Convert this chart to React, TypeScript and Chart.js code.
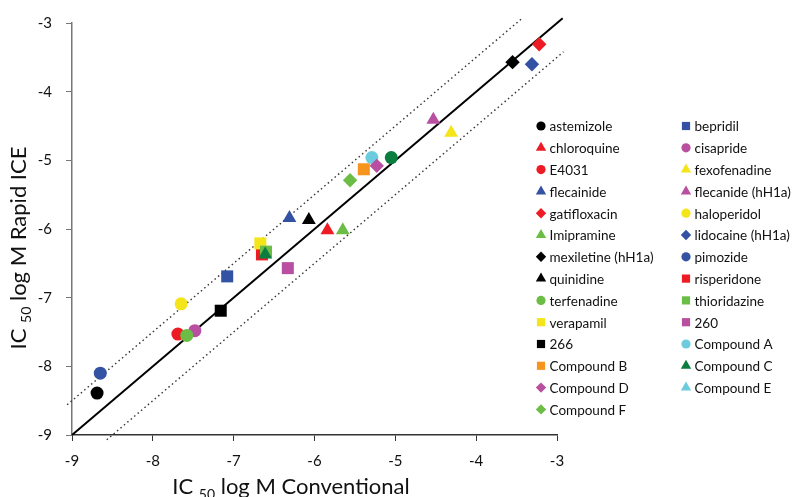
import React, { useEffect, useRef } from 'react';
import { Chart, registerables } from 'chart.js';
import { drawPoint } from 'chart.js/helpers';

Chart.register(...registerables);

// Legend entries (row-major, two columns)
const legendNames = [
  'astemizole', 'bepridil',
  'chloroquine', 'cisapride',
  'E4031', 'fexofenadine',
  'flecainide', 'flecanide (hH1a)',
  'gatifloxacin', 'haloperidol',
  'Imipramine', 'lidocaine (hH1a)',
  'mexiletine (hH1a)', 'pimozide',
  'quinidine', 'risperidone',
  'terfenadine', 'thioridazine',
  'verapamil', '260',
  '266', 'Compound A',
  'Compound B', 'Compound C',
  'Compound D', 'Compound E',
  'Compound F',
];
const legendColors = [
  '#000000', '#3352A3',
  '#ED1C24', '#B94FA0',
  '#ED1C24', '#F4E51A',
  '#3352A3', '#B94FA0',
  '#ED1C24', '#F4E51A',
  '#6CBD45', '#3352A3',
  '#000000', '#3352A3',
  '#000000', '#ED1C24',
  '#6CBD45', '#6CBD45',
  '#F4E51A', '#B94FA0',
  '#000000', '#6CCCDD',
  '#F7941D', '#0A7D3F',
  '#B94FA0', '#6CCCDD',
  '#6CBD45',
];
const legendShapes = [
  'circle', 'rect',
  'triangle', 'circle',
  'circle', 'triangle',
  'triangle', 'triangle',
  'rectRot', 'circle',
  'triangle', 'rectRot',
  'rectRot', 'circle',
  'triangle', 'rect',
  'circle', 'rect',
  'rect', 'rect',
  'rect', 'circle',
  'rect', 'triangle',
  'rectRot', 'triangle',
  'rectRot',
];

// Measured points
const pointCompound = [
  'astemizole', 'pimozide', 'haloperidol', 'E4031', 'cisapride', 'terfenadine',
  '266', 'bepridil', 'verapamil', 'risperidone', 'thioridazine', 'Compound C',
  '260', 'flecainide', 'quinidine', 'chloroquine', 'Imipramine', 'Compound F',
  'Compound B', 'Compound A', 'Compound D', 'Compound C', 'flecanide (hH1a)',
  'fexofenadine', 'mexiletine (hH1a)', 'lidocaine (hH1a)', 'gatifloxacin',
];
const pointShape = [
  'circle', 'circle', 'circle', 'circle', 'circle', 'circle',
  'rect', 'rect', 'rect', 'rect', 'rect', 'triangle',
  'rect', 'triangle', 'triangle', 'triangle', 'triangle', 'rectRot',
  'rect', 'circle', 'rectRot', 'circle', 'triangle',
  'triangle', 'rectRot', 'rectRot', 'rectRot',
];
const conventional = [
  -8.69, -8.65, -7.65, -7.69, -7.48, -7.58,
  -7.16, -7.08, -6.67, -6.65, -6.60, -6.61,
  -6.33, -6.31, -6.07, -5.84, -5.65, -5.56,
  -5.39, -5.29, -5.23, -5.05, -4.53,
  -4.31, -3.55, -3.31, -3.22,
];
const rapidICE = [
  -8.39, -8.10, -7.09, -7.53, -7.48, -7.55,
  -7.19, -6.69, -6.21, -6.37, -6.33, -6.37,
  -6.57, -5.84, -5.87, -6.02, -6.02, -5.29,
  -5.13, -4.96, -5.08, -4.96, -4.41,
  -4.60, -3.57, -3.60, -3.31,
];

// Reference lines (identity and +/- 0.5 log unit)
const identityX = [-9, -2.93];
const identityY = [-9, -2.93];
const upperX = [-9.06, -3.43];
const upperY = [-8.56, -2.93];
const lowerX = [-8.57, -2.92];
const lowerY = [-9.07, -3.42];

const axisTicks = [-9, -8, -7, -6, -5, -4, -3];

const FONT = 'Lato, "Noto Sans", sans-serif';

const plotRadius: Record<string, number> = { circle: 6.5, rect: 8.5, triangle: 8, rectRot: 7.2 };
const legendRadius: Record<string, number> = { circle: 4.6, rect: 5.8, triangle: 6, rectRot: 5.2 };

const layerOrder: Record<string, number> = {
  'Compound C': 0,
  'thioridazine': 1,
  'verapamil': 2,
  'risperidone': 3,
  'terfenadine': 0,
  'cisapride': 1,
  'E4031': 2,
  'Compound D': 0,
  'Compound A': 1,
  'Compound B': 2,
};

const overlayPlugin = {
  id: 'overlay',
  afterDraw(chart: any) {
    const ctx = chart.ctx as CanvasRenderingContext2D;
    ctx.save();
    // legend
    ctx.textBaseline = 'middle';
    ctx.textAlign = 'left';
    ctx.font = `13.5px ${FONT}`;
    legendNames.forEach((name, i) => {
      const col = i % 2;
      const row = Math.floor(i / 2);
      const mx = col === 0 ? 541 : 686;
      const my = 126 + row * 21.8;
      ctx.fillStyle = legendColors[i];
      drawPoint(ctx, { pointStyle: legendShapes[i], radius: legendRadius[legendShapes[i]], rotation: 0, borderWidth: 0 } as any, mx, my);
      ctx.fillStyle = '#111';
      ctx.fillText(name, mx + 8.5, my + 1);
    });

    // axis titles with subscript
    const drawTitle = (parts: [string, number, number][], cx: number, cy: number, rot: number) => {
      ctx.save();
      ctx.translate(cx, cy);
      ctx.rotate(rot);
      ctx.textBaseline = 'alphabetic';
      ctx.textAlign = 'left';
      let total = 0;
      parts.forEach(([t, size]) => {
        ctx.font = `${size}px ${FONT}`;
        total += ctx.measureText(t).width;
      });
      let x = -total / 2;
      ctx.fillStyle = '#111';
      parts.forEach(([t, size, dy]) => {
        ctx.font = `${size}px ${FONT}`;
        ctx.fillText(t, x, dy);
        x += ctx.measureText(t).width;
      });
      ctx.restore();
    };
    drawTitle([['IC ', 22, 0], ['50', 14, 5], [' log M Conventional', 22, 0]], 291, 494, 0);
    drawTitle([['IC ', 22, 0], ['50', 14, 5], [' log M Rapid ICE', 22, 0]], 26, 248, -Math.PI / 2);
    ctx.restore();
  },
};

export default function App() {
  const ref = useRef<HTMLCanvasElement | null>(null);
  useEffect(() => {
    if (!ref.current) return;
    const datasets: any[] = legendNames.map((name, i) => {
      const idx = pointCompound.map((c, k) => (c === name ? k : -1)).filter((k) => k >= 0);
      const shapes = idx.map((k) => pointShape[k]);
      return {
        label: name,
        data: idx.map((k) => ({ x: conventional[k], y: rapidICE[k] })),
        pointStyle: shapes.length ? shapes : legendShapes[i],
        pointRadius: shapes.length ? shapes.map((s) => plotRadius[s]) : 6,
        pointBackgroundColor: legendColors[i],
        pointBorderWidth: 0,
        pointHoverRadius: 0,
        showLine: false,
        order: layerOrder[name] ?? 4,
      };
    });
    const lineSet = (xs: number[], ys: number[], dashed: boolean, label: string) => ({
      label,
      data: xs.map((x, k) => ({ x, y: ys[k] })),
      showLine: true,
      borderColor: dashed ? '#333' : '#000',
      borderWidth: dashed ? 1.4 : 2,
      borderDash: dashed ? [1.5, 3] : [],
      pointRadius: 0,
      clip: false,
      order: 10,
    });
    datasets.push(lineSet(identityX, identityY, false, 'identity'));
    datasets.push(lineSet(upperX, upperY, true, 'upper'));
    datasets.push(lineSet(lowerX, lowerY, true, 'lower'));

    const chart = new Chart(ref.current, {
      type: 'scatter',
      data: { datasets },
      options: {
        animation: false,
        responsive: true,
        maintainAspectRatio: false,
        layout: { padding: { top: 19, right: 236, left: 0, bottom: 0 } },
        plugins: { legend: { display: false }, tooltip: { enabled: false } },
        scales: {
          x: {
            type: 'linear',
            min: -9,
            max: -3,
            afterBuildTicks: (scale: any) => { scale.ticks = axisTicks.map((v) => ({ value: v })); },
            afterFit: (scale: any) => { scale.height = 62; },
            grid: { drawOnChartArea: false, drawTicks: true, tickLength: 6, color: '#333' },
            border: { color: '#333', width: 1.5 },
            ticks: { font: { family: FONT, size: 15 }, color: '#111', padding: 11, callback: (v: any) => String(v) },
          },
          y: {
            type: 'linear',
            min: -9,
            max: -3,
            afterBuildTicks: (scale: any) => { scale.ticks = axisTicks.map((v) => ({ value: v })); },
            afterFit: (scale: any) => { scale.width = 72; },
            grid: { drawOnChartArea: false, drawTicks: true, tickLength: 6, color: '#777' },
            border: { color: '#777', width: 1.5 },
            ticks: { font: { family: FONT, size: 15 }, color: '#111', padding: 14, callback: (v: any) => String(v) },
          },
        },
      },
      plugins: [overlayPlugin],
    });
    return () => chart.destroy();
  }, []);
  return (
    <div style={{ position: 'absolute', left: 0, top: 0, width: 793, height: 497 }}>
      <canvas ref={ref} />
    </div>
  );
}
